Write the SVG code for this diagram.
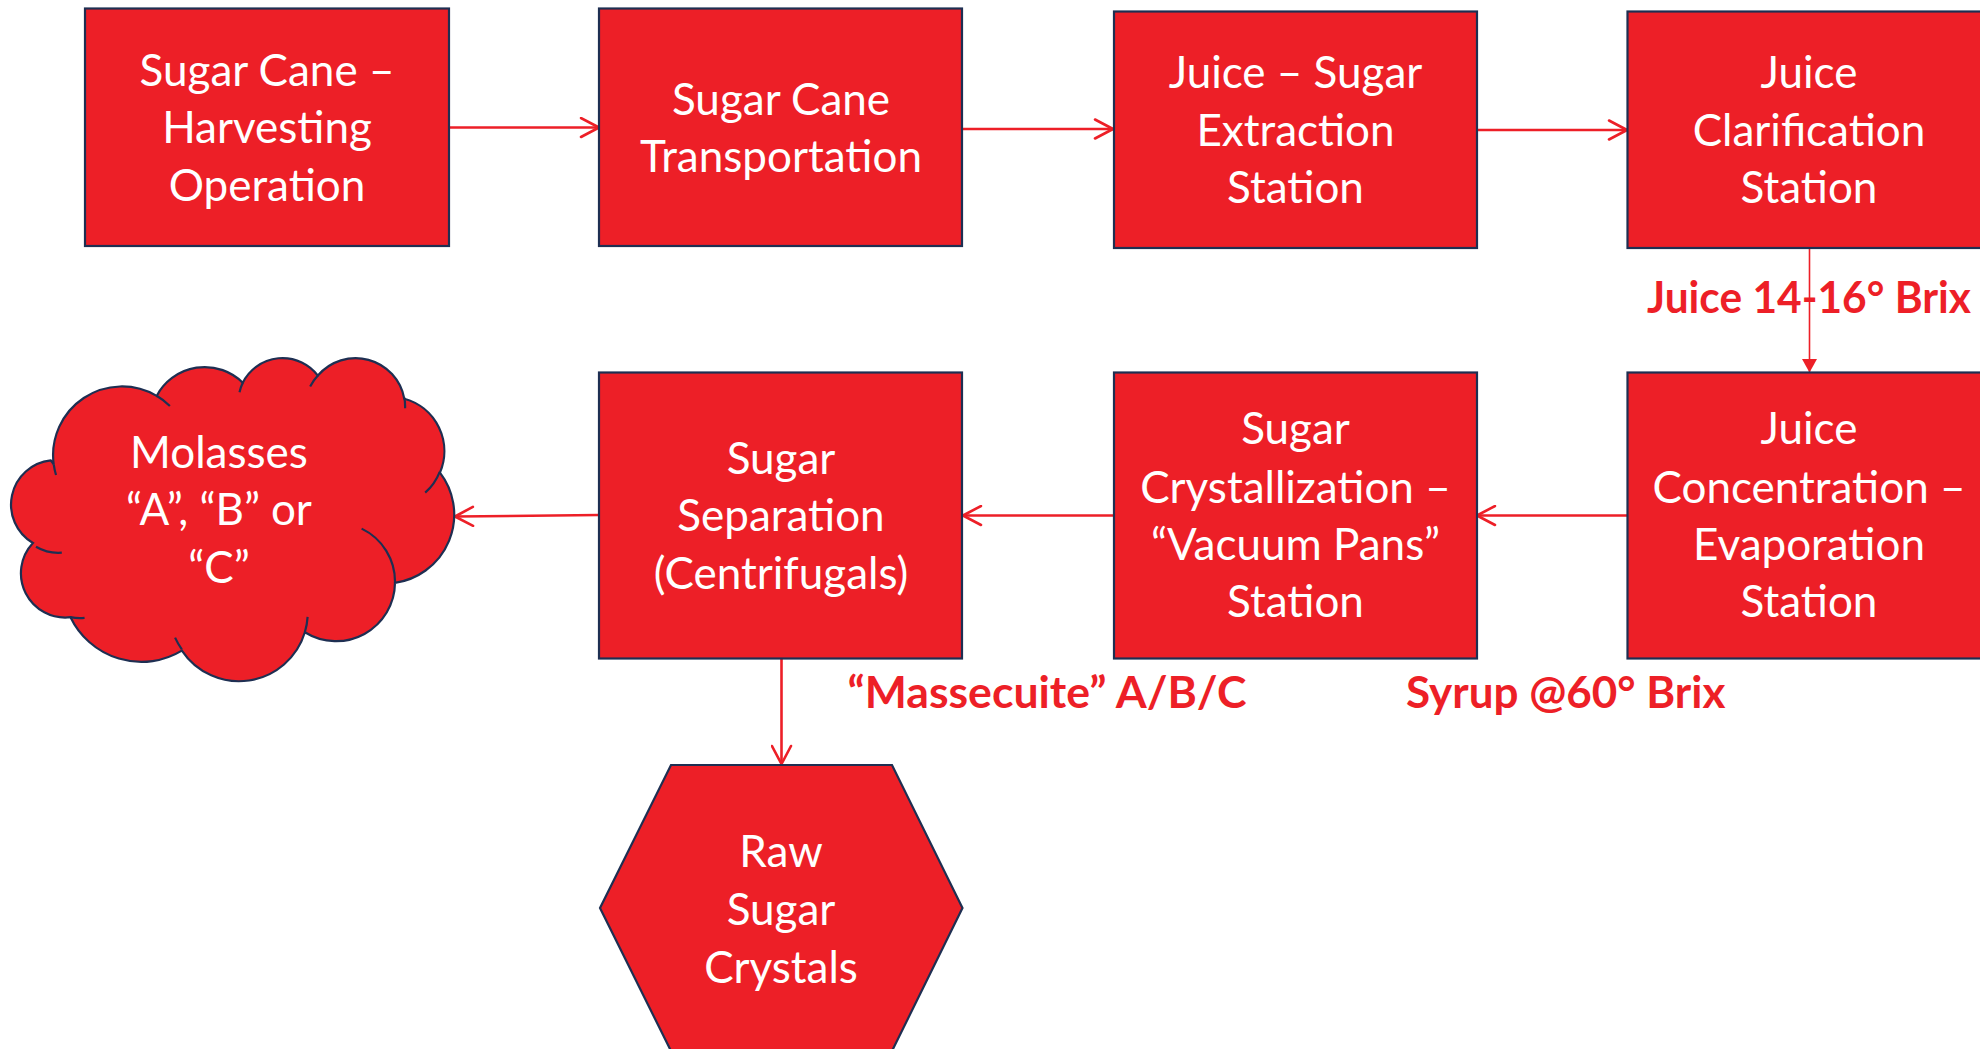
<svg xmlns="http://www.w3.org/2000/svg" width="1980" height="1049" viewBox="0 0 1980 1049">
<style>
.box{fill:#ED1F27;stroke:#1E2F52;stroke-width:2.2}
.t{fill:#FFFFFF;font-family:Lato,"Open Sans","Liberation Sans",sans-serif;font-size:44px;text-anchor:middle}
.lbl{fill:#ED1F27;font-family:Lato,"Open Sans","Liberation Sans",sans-serif;font-size:44px;font-weight:bold}
.con{stroke:#ED1F27;stroke-width:2.6;fill:none}
.thin{stroke:#ED1F27;stroke-width:1.6;fill:none}
.tail{fill:none;stroke:#1E2F52;stroke-width:2.2}
</style>
<defs>
<marker id="open" viewBox="0 0 22 22" refX="20" refY="11" markerWidth="22" markerHeight="22" markerUnits="userSpaceOnUse" orient="auto">
<path d="M2,1.5 L20,11 L2,20.5" fill="none" stroke="#ED1F27" stroke-width="2.6" stroke-linecap="round" stroke-linejoin="round"/>
</marker>
<marker id="solid" viewBox="0 0 14 16" refX="13" refY="8" markerWidth="14" markerHeight="16" markerUnits="userSpaceOnUse" orient="auto">
<path d="M0,0.5 L13.5,8 L0,15.5 Z" fill="#ED1F27"/>
</marker>
</defs>
<rect width="1980" height="1049" fill="#FFFFFF"/>

<g id="connectors">
<line class="con" x1="449" y1="127.5" x2="599" y2="127.5" marker-end="url(#open)"/>
<line class="con" x1="962" y1="129" x2="1113" y2="129" marker-end="url(#open)"/>
<line class="con" x1="1477" y1="130" x2="1627" y2="130" marker-end="url(#open)"/>
<line class="thin" x1="1809.5" y1="248" x2="1809.5" y2="372" marker-end="url(#solid)"/>
<line class="con" x1="1627" y1="515.5" x2="1477" y2="515.5" marker-end="url(#open)"/>
<line class="con" x1="1113" y1="515.5" x2="963" y2="515.5" marker-end="url(#open)"/>
<line class="con" x1="599" y1="515" x2="455" y2="516.5" marker-end="url(#open)"/>
<line class="con" x1="781.5" y1="659" x2="781.5" y2="764" marker-end="url(#open)"/>
</g>

<g id="harvesting">
<rect class="box" x="85" y="8.5" width="364" height="237.5"/>
<text class="t" x="267" y="86">Sugar Cane –</text>
<text class="t" x="267" y="143.3">Harvesting</text>
<text class="t" x="267" y="200.6">Operation</text>
</g>
<g id="transportation">
<rect class="box" x="599" y="8.5" width="363" height="237.5"/>
<text class="t" x="781" y="114.8">Sugar Cane</text>
<text class="t" x="781" y="172.1">Transportation</text>
</g>
<g id="extraction">
<rect class="box" x="1114" y="11.5" width="363" height="236.5"/>
<text class="t" x="1295.5" y="88.3">Juice – Sugar</text>
<text class="t" x="1295.5" y="145.6">Extraction</text>
<text class="t" x="1295.5" y="202.9">Station</text>
</g>
<g id="clarification">
<rect class="box" x="1627.5" y="11.5" width="364" height="236.5"/>
<text class="t" x="1809" y="88.3">Juice</text>
<text class="t" x="1809" y="145.6">Clarification</text>
<text class="t" x="1809" y="202.9">Station</text>
</g>
<g id="concentration">
<rect class="box" x="1627.5" y="372.5" width="364" height="286"/>
<text class="t" x="1809" y="444">Juice</text>
<text class="t" x="1809" y="502.5">Concentration –</text>
<text class="t" x="1809" y="559.8">Evaporation</text>
<text class="t" x="1809" y="617">Station</text>
</g>
<g id="crystallization">
<rect class="box" x="1114" y="372.5" width="363" height="286"/>
<text class="t" x="1295.5" y="444">Sugar</text>
<text class="t" x="1295.5" y="502.5">Crystallization –</text>
<text class="t" x="1295.5" y="559.8">“Vacuum Pans”</text>
<text class="t" x="1295.5" y="617">Station</text>
</g>
<g id="separation">
<rect class="box" x="599" y="372.5" width="363" height="286"/>
<text class="t" x="781" y="474">Sugar</text>
<text class="t" x="781" y="531.3">Separation</text>
<text class="t" x="781" y="588.6">(Centrifugals)</text>
</g>
<g id="molasses">
<path class="box" d="M53.72,464.44 A68.78,68.71 0 0 1 156.66,395.91 A54.32,54.33 0 0 1 242.74,382.68 A44.46,44.45 0 0 1 317.88,375.57 A49.47,49.31 0 0 1 404.30,398.72 A54.32,54.38 0 0 1 439.95,472.62 A69.00,68.94 0 0 1 394.99,582.85 A58.92,58.82 0 0 1 304.87,632.28 A68.77,68.90 0 0 1 181.86,650.59 A78.63,78.83 0 0 1 70.50,617.21 A44.41,44.25 0 0 1 32.93,543.01 A44.25,44.45 0 0 1 50.75,460.44 Z"/>
<path class="tail" d="M61.8,552.7 A44.25,44.45 0 0 1 36.0,546.8 M84.56,617.94 A44.41,44.25 0 0 1 70.5,617.2 M181.83,649.27 A68.77,68.90 0 0 1 175.07,637.6 M307.61,616.83 A68.77,68.90 0 0 1 304.87,632.28 M361.61,528.62 A58.92,58.82 0 0 1 394.99,582.85 M439.72,471.8 A54.32,54.38 0 0 1 425.2,492.63 M404.34,397.57 A49.47,49.31 0 0 1 405.07,408.17 M310.17,386.55 A49.47,49.31 0 0 1 317.88,375.57 M239.51,392.29 A44.46,44.45 0 0 1 242.74,382.68 M156.59,395.82 A68.78,68.71 0 0 1 169.89,405.98 M56.03,475.05 A68.78,68.71 0 0 1 53.72,464.44"/>
<text class="t" x="219" y="467.7">Molasses</text>
<text class="t" x="219" y="525">“A”, “B” or</text>
<text class="t" x="219" y="583.3">“C”</text>
</g>
<g id="raw-sugar">
<polygon class="box" points="600,908 671,765 892,765 962.5,908 892,1051 671,1051"/>
<text class="t" x="781" y="866.7">Raw</text>
<text class="t" x="781" y="925">Sugar</text>
<text class="t" x="781" y="982.7">Crystals</text>
</g>

<g id="labels">
<text class="lbl" x="1647" y="313.3" textLength="324" lengthAdjust="spacingAndGlyphs">Juice 14-16° Brix</text>
<text class="lbl" x="847.5" y="708.3" textLength="399" lengthAdjust="spacingAndGlyphs">“Massecuite” A/B/C</text>
<text class="lbl" x="1406" y="708.3">Syrup @60° Brix</text>
</g>
</svg>
